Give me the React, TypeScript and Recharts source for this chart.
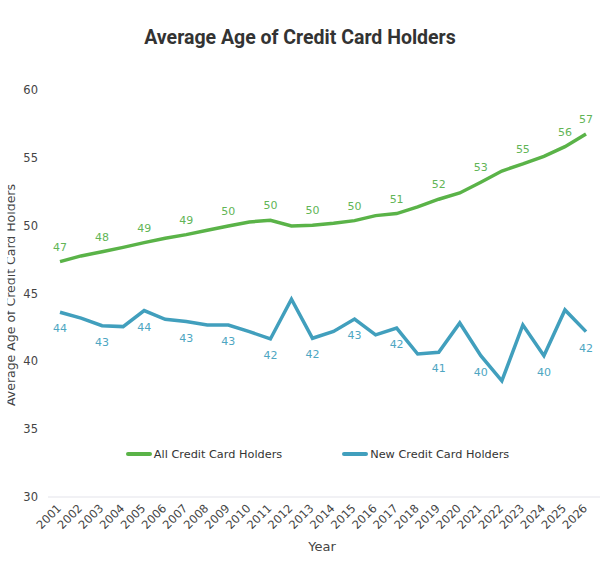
import React from 'react';
import { LineChart, Line, XAxis, YAxis, Legend, LabelList } from 'recharts';

const years = ['2001', '2002', '2003', '2004', '2005', '2006', '2007', '2008', '2009', '2010', '2011', '2012', '2013', '2014', '2015', '2016', '2017', '2018', '2019', '2020', '2021', '2022', '2023', '2024', '2025', '2026'];
const allHolders = [47.35, 47.77, 48.08, 48.4, 48.75, 49.07, 49.34, 49.66, 49.98, 50.27, 50.4, 49.98, 50.03, 50.17, 50.37, 50.74, 50.89, 51.38, 51.95, 52.41, 53.2, 54.03, 54.55, 55.11, 55.82, 56.76];
const newHolders = [43.62, 43.18, 42.63, 42.56, 43.74, 43.1, 42.93, 42.68, 42.68, 42.19, 41.65, 44.58, 41.7, 42.2, 43.12, 41.95, 42.45, 40.54, 40.67, 42.83, 40.42, 38.56, 42.68, 40.42, 43.79, 42.19];
const allLabelIdx = [0, 2, 4, 6, 8, 10, 12, 14, 16, 18, 20, 22, 24, 25];
const newLabelIdx = [0, 2, 4, 6, 8, 10, 12, 14, 16, 18, 20, 23, 25];
const yTicks = [30, 35, 40, 45, 50, 55, 60];
const seriesNames = ['All Credit Card Holders', 'New Credit Card Holders'];

const GREEN = '#5ab348';
const BLUE = '#419fbd';
const GREEN_LABEL = '#62b556';
const BLUE_LABEL = '#4ea6c2';
const FONT = '"DejaVu Sans", Verdana, sans-serif';

const data = years.map((y, i) => ({ year: y, all: allHolders[i], nw: newHolders[i] }));

const makeLabel = (idx: number[], color: string, dy: number) => (props: any) => {
  const { x, y, value, index } = props;
  if (!idx.includes(index)) return null;
  return (
    <text x={x} y={y + dy} textAnchor="middle" fill={color} fontSize={11} fontFamily={FONT}>
      {Math.round(value)}
    </text>
  );
};

const XTick = (props: any) => {
  const { x, y, payload } = props;
  const tx = x + 2;
  const ty = y + 4;
  return (
    <text x={tx} y={ty} transform={`rotate(-45, ${tx}, ${ty})`} textAnchor="end" fill="#444" fontSize={11.5} fontFamily={FONT}>
      {payload.value}
    </text>
  );
};

const YLabel = () => (
  <g>
    <defs>
      <clipPath id="ylabclip">
        <rect x={7.5} y={0} width={60} height={566} />
      </clipPath>
    </defs>
    <g clipPath="url(#ylabclip)">
      <text x={15} y={295} transform="rotate(-90, 15, 295)" textAnchor="middle" fill="#444" fontSize={12.5} fontFamily={FONT}>
        Average Age of Credit Card Holders
      </text>
    </g>
  </g>
);

const XLabel = () => (
  <text x={322} y={551} textAnchor="middle" fill="#444" fontSize={13} fontFamily={FONT}>
    Year
  </text>
);

const LegendContent = () => (
  <div style={{ display: 'flex', justifyContent: 'center', alignItems: 'center', height: 20, fontFamily: FONT, fontSize: 11.3, color: '#333', paddingLeft: 32 }}>
    {[GREEN, BLUE].map((c, i) => (
      <div key={i} style={{ display: 'flex', alignItems: 'center', marginRight: i === 0 ? 60 : 0 }}>
        <div style={{ width: 26, height: 4, background: c, borderRadius: 2, marginRight: 2 }} />
        <span>{seriesNames[i]}</span>
      </div>
    ))}
  </div>
);

export default function App() {
  return (
    <div style={{ position: 'absolute', left: 0, top: 0, width: 603, height: 566, background: '#fff' }}>
      <svg width={603} height={60} style={{ position: 'absolute', left: 0, top: 0 }}>
        <text x={300} y={44} textAnchor="middle" fill="#333" fontSize={19.5} fontWeight="bold" fontFamily="Roboto, sans-serif">
          Average Age of Credit Card Holders
        </text>
      </svg>
      <LineChart width={603} height={566} data={data} margin={{ top: 90, right: 3, bottom: 0, left: 0 }}>
        <XAxis
          dataKey="year"
          interval={0}
          padding={{ left: 12, right: 14 }}
          height={69}
          tickLine={false}
          axisLine={{ stroke: '#e3e3ea', strokeWidth: 1 }}
          tick={<XTick />}
          label={<XLabel />}
        />
        <YAxis
          domain={[30, 60]}
          ticks={yTicks}
          width={48}
          tickLine={false}
          axisLine={false}
          tickMargin={4}
          tick={{ fill: '#444', fontSize: 11.5, fontFamily: FONT }}
          label={<YLabel />}
        />
        <Legend
          verticalAlign="middle"
          align="center"
          layout="horizontal"
          wrapperStyle={{ top: 444, left: 0, width: 603 }}
          content={<LegendContent />}
        />
        <Line type="linear" dataKey="all" name={seriesNames[0]} stroke={GREEN} strokeWidth={3.5} dot={false} isAnimationActive={false}>
          <LabelList dataKey="all" content={makeLabel(allLabelIdx, GREEN_LABEL, -11)} />
        </Line>
        <Line type="linear" dataKey="nw" name={seriesNames[1]} stroke={BLUE} strokeWidth={3.5} dot={false} isAnimationActive={false}>
          <LabelList dataKey="nw" content={makeLabel(newLabelIdx, BLUE_LABEL, 20)} />
        </Line>
      </LineChart>
    </div>
  );
}
